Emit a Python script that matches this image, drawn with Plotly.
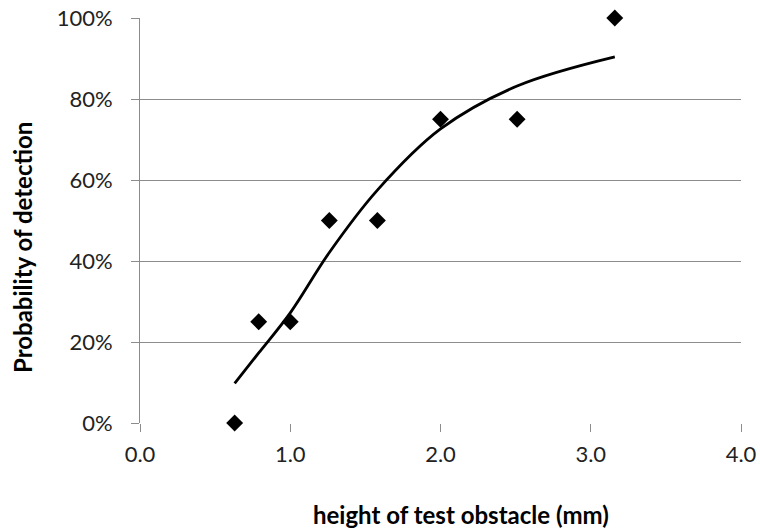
import plotly.graph_objects as go

# Observed points
obs_x = [0.63, 0.79, 1.0, 1.26, 1.58, 2.0, 2.51, 3.16]
obs_y = [0.0, 0.25, 0.25, 0.50, 0.50, 0.75, 0.75, 1.00]

# Fitted curve values at the same heights
fit_x = [0.63, 0.79, 1.0, 1.26, 1.58, 2.0, 2.51, 3.16]
fit_y = [0.098, 0.173, 0.272, 0.421, 0.575, 0.726, 0.832, 0.904]

x_ticks = [0.0, 1.0, 2.0, 3.0, 4.0]
y_ticks = [0.0, 0.2, 0.4, 0.6, 0.8, 1.0]

FONT = "Lato"
W, H = 760, 531
L, R, T, B = 140, 19, 18, 108
PW, PH = W - L - R, H - T - B

fig = go.Figure()
fig.add_trace(go.Scatter(x=fit_x, y=fit_y, mode="lines",
                         line=dict(color="black", width=2.8, shape="spline", smoothing=1.0),
                         showlegend=False, hoverinfo="skip", cliponaxis=False))
fig.add_trace(go.Scatter(x=obs_x, y=obs_y, mode="markers",
                         marker=dict(symbol="diamond", size=13, color="black"),
                         showlegend=False, cliponaxis=False))

fig.update_layout(
    width=W, height=H, autosize=False,
    margin=dict(l=L, r=R, t=T, b=B, pad=0, autoexpand=False),
    paper_bgcolor="white", plot_bgcolor="white",
    font=dict(family=FONT, size=22, color="#222222"),
    xaxis=dict(range=[0, 4], tickvals=x_ticks, ticktext=[f"{v:.1f}" for v in x_ticks],
               showgrid=False, zeroline=False, showline=False, automargin=False,
               ticks="outside", ticklen=8, tickcolor="#8c8c8c", tickwidth=1,
               ticklabelstandoff=4,
               tickfont=dict(family=FONT, size=22, color="#222222")),
    yaxis=dict(range=[0, 1], tickvals=y_ticks, ticktext=[f"{int(v*100)}%" for v in y_ticks],
               showgrid=True, gridcolor="#8c8c8c", gridwidth=1, zeroline=False,
               showline=True, linecolor="#8c8c8c", linewidth=1, automargin=False,
               ticks="outside", ticklen=8, tickcolor="#8c8c8c",
               ticklabelstandoff=14,
               tickfont=dict(family=FONT, size=22, color="#222222")),
    annotations=[
        dict(text="<b>Probability of detection</b>", textangle=-90,
             xref="paper", yref="paper",
             x=(22 - L) / PW, y=1 - (248 - T) / PH,
             xanchor="center", yanchor="middle", showarrow=False,
             font=dict(family=FONT, size=24, color="black")),
        dict(text="<b>height of test obstacle (mm)</b>",
             xref="paper", yref="paper",
             x=(461 - L) / PW, y=1 - (514 - T) / PH,
             xanchor="center", yanchor="middle", showarrow=False,
             font=dict(family=FONT, size=24, color="black")),
    ],
)
fig.write_html("out.html")
